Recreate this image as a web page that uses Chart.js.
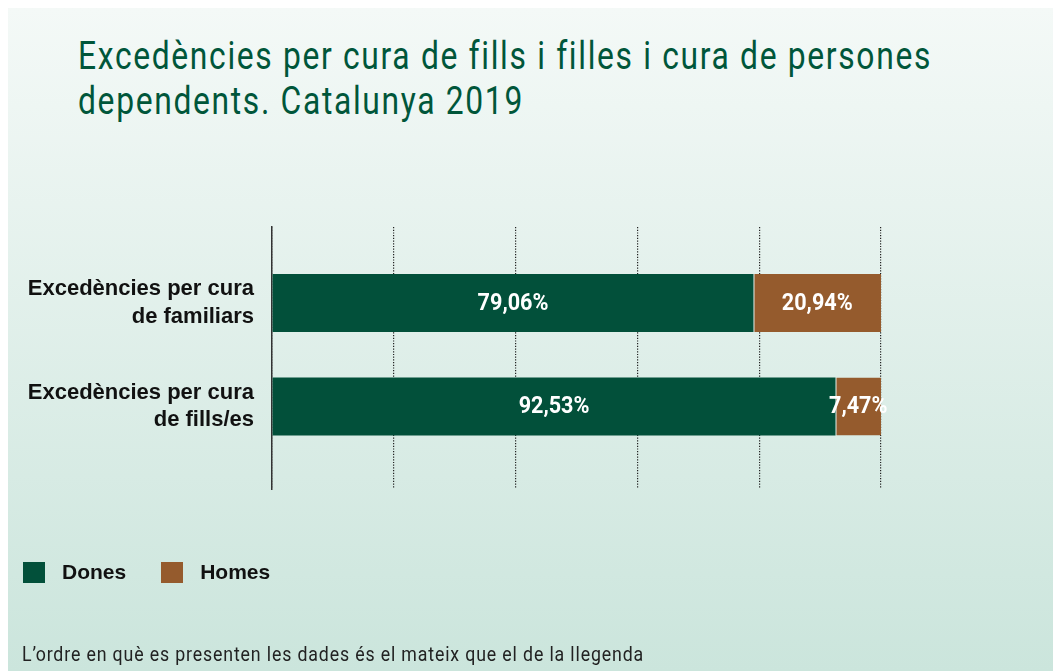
<!DOCTYPE html>
<html>
<head>
<meta charset="utf-8">
<script src="https://cdn.jsdelivr.net/npm/chart.js@4/dist/chart.umd.min.js"></script>
<style>
    body { margin: 0; width: 1054px; height: 671px; background: #fff; overflow: hidden; position: relative; }
    #panel { position: absolute; left: 8px; top: 8px; width: 1045px; height: 663px; background: linear-gradient(to bottom, #f4f9f7, #cbe5dc); }
    #titol { position: absolute; left: 78px; top: 34px; font-family: 'Liberation Sans Narrow', Roboto, 'Liberation Sans', sans-serif; font-size: 38px; line-height: 45px; letter-spacing: 2px; color: #00563a; white-space: nowrap; transform-origin: 0 0; }
    #titol span { display: inline-block; }
    #nota { position: absolute; left: 22px; top: 642px; font-family: 'Liberation Sans Narrow', Roboto, 'Liberation Sans', sans-serif; font-size: 21px; line-height: 24px; letter-spacing: 1px; color: #222; white-space: nowrap; transform-origin: 0 0; }
    #llegenda { position: absolute; left: 23px; top: 560px; font-family: 'Liberation Sans', Arial, sans-serif; font-weight: bold; font-size: 21px; color: #111; display: flex; }
    .item { display: flex; align-items: center; margin-right: 35px; }
    .caixa { width: 22px; height: 21px; margin-right: 17px; }
    #grafic { position: absolute; left: 0; top: 0; }
</style>
</head>
<body>
<div id="panel"></div>
<div id="titol"><span id="linia1">Excedències per cura de fills i filles i cura de persones</span><br><span>dependents. Catalunya 2019</span></div>
<canvas id="grafic" width="1054" height="671"></canvas>
<div id="llegenda"></div>
<div id="nota">L’ordre en què es presenten les dades és el mateix que el de la llegenda</div>

<script>
var categories = [
    ['Excedències per cura', 'de familiars'],
    ['Excedències per cura', 'de fills/es']
];
var dones = [79.06, 92.53];
var homes = [20.94, 7.47];
var xTicks = [0, 20, 40, 60, 80, 100];

var verd = '#02503a';
var marro = '#955b2d';

// etiquetes blanques dins de cada barra
var etiquetesPlugin = {
    id: 'etiquetes',
    afterDatasetsDraw: function(chart) {
        var ctx = chart.ctx;
        chart.data.datasets.forEach(function(ds, i) {
            var meta = chart.getDatasetMeta(i);
            meta.data.forEach(function(bar, j) {
                var text = ds.data[j].x.toFixed(2).replace('.', ',') + '%';
                ctx.save();
                ctx.translate((bar.x + bar.base) / 2, bar.y);
                ctx.scale(0.9, 1);
                ctx.font = 'bold 24px Roboto, "Liberation Sans", sans-serif';
                ctx.fillStyle = '#ffffff';
                ctx.textAlign = 'center';
                ctx.textBaseline = 'middle';
                ctx.fillText(text, 0, 1);
                ctx.restore();
            });
        });
    }
};

window.onload = function() {
    var ctx = document.getElementById('grafic').getContext('2d');
    var chart = new Chart(ctx, {
        type: 'bar',
        data: {
            datasets: [{
                label: 'Dones',
                data: dones.map(function(v, i) { return { x: v, y: i }; }),
                backgroundColor: verd,
                borderWidth: 0,
                categoryPercentage: 1,
                barPercentage: 0.56
            }, {
                label: 'Homes',
                data: homes.map(function(v, i) { return { x: v, y: i }; }),
                backgroundColor: marro,
                borderColor: '#f2f8f5',
                borderWidth: { left: 1, right: 0, top: 0, bottom: 0 },
                borderSkipped: false,
                categoryPercentage: 1,
                barPercentage: 0.56
            }]
        },
        options: {
            indexAxis: 'y',
            responsive: false,
            animation: false,
            layout: { padding: { top: 227, bottom: 182, left: 22, right: 173 } },
            plugins: {
                legend: { display: false },
                tooltip: { enabled: false }
            },
            scales: {
                x: {
                    stacked: true,
                    min: 0,
                    max: 100,
                    afterBuildTicks: function(scale) {
                        scale.ticks = xTicks.map(function(v) { return { value: v }; });
                    },
                    ticks: { display: false },
                    grid: { color: '#222', lineWidth: 1.2, drawTicks: false },
                    border: { display: false, dash: [1.2, 1.5] }
                },
                y: {
                    type: 'linear',
                    stacked: true,
                    reverse: true,
                    offset: false,
                    min: -0.734,
                    max: 1.797,
                    afterBuildTicks: function(scale) {
                        scale.ticks = categories.map(function(c, i) { return { value: i }; });
                    },
                    afterFit: function(scale) { scale.width = 250; },
                    ticks: {
                        padding: 18,
                        color: '#111',
                        font: { family: '"Liberation Sans", Arial, sans-serif', size: 22, weight: 'bold', lineHeight: 1.25 },
                        callback: function(value) { return categories[value]; }
                    },
                    grid: { display: false, drawTicks: false },
                    border: { display: true, color: '#333', width: 1.5 }
                }
            }
        },
        plugins: [etiquetesPlugin]
    });

    // llegenda a partir dels datasets
    var llegenda = document.getElementById('llegenda');
    chart.data.datasets.forEach(function(ds) {
        var item = document.createElement('div');
        item.className = 'item';
        item.innerHTML = '<div class="caixa" style="background:' + ds.backgroundColor + '"></div><span>' + ds.label + '</span>';
        llegenda.appendChild(item);
    });

    // text condensat: ajustar amplada
    var titol = document.getElementById('titol');
    var w1 = document.getElementById('linia1').getBoundingClientRect().width;
    titol.style.transform = 'scaleX(' + (854 / w1) + ')';
    var nota = document.getElementById('nota');
    var wn = nota.getBoundingClientRect().width;
    nota.style.transform = 'scaleX(' + (622 / wn) + ')';
};
</script>
</body>
</html>
